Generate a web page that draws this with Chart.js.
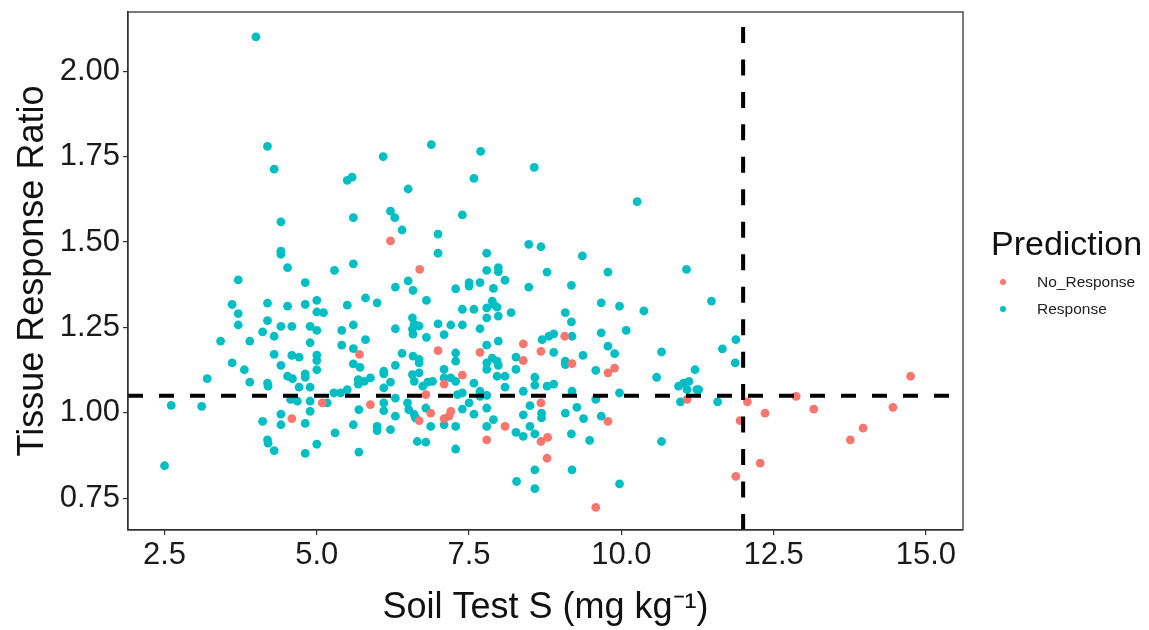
<!DOCTYPE html>
<html>
<head>
<meta charset="utf-8">
<script src="https://cdn.jsdelivr.net/npm/chart.js@4.4.1/dist/chart.umd.min.js"></script>
<style>
  body { margin: 0; background: #fff; }
  #wrap { position: relative; width: 1149px; height: 630px; font-family: "Liberation Sans", Arial, sans-serif; }
  #legend { position: absolute; left: 0; top: 0; }
  .lg-title { position: absolute; left: 991px; top: 223px; font-size: 34px; line-height: 40px; color: #111; white-space: nowrap; }
  .lg-item { position: absolute; left: 1037px; font-size: 15.5px; line-height: 18px; color: #222; white-space: nowrap; }
  .lg-dot { position: absolute; width: 6px; height: 6px; border-radius: 50%; }
</style>
</head>
<body>
<div id="wrap">
  <canvas id="chart" width="1149" height="630"></canvas>
  <div id="legend"></div>
</div>
<script>
// Soil test S (x) vs tissue response ratio (y)
const responseX = [
  4.00, 4.19, 4.30, 5.50, 5.58, 6.09, 6.50, 6.88, 7.58, 7.69, 8.57, 10.26,
  6.21, 4.41, 5.60, 6.28, 6.40, 4.41, 4.41, 4.52, 5.29, 5.60, 3.71, 4.81,
  6.50, 6.29, 6.58, 5.80, 5.99, 5.00, 3.61, 4.19, 4.52, 4.81, 5.50, 5.00,
  5.11, 3.71, 3.71, 4.19, 4.41, 4.59, 4.11, 4.30, 4.89, 5.00, 5.41, 5.60,
  6.29, 6.57, 6.60, 6.57, 6.68, 6.58, 3.42, 3.90, 4.89, 5.41, 5.60, 5.80,
  4.30, 4.59, 4.71, 5.00, 5.00, 6.40, 6.58, 3.61, 4.41, 5.60, 5.71, 6.29,
  3.81, 5.00, 6.10,
  3.90, 3.20, 4.19, 4.20, 4.52, 4.60, 4.71, 4.81, 4.81, 4.89, 5.68, 5.68,
  5.78, 5.88, 6.10, 6.10, 6.21, 5.28, 5.39, 5.50, 4.57, 4.68, 4.89, 5.17,
  2.61, 3.11, 6.10, 6.10, 6.29, 6.49, 6.51, 6.60, 5.69, 4.89, 4.41, 4.11,
  4.41, 4.81, 5.60, 5.99, 5.99, 6.21, 6.29, 5.30, 4.19, 4.20, 4.30, 4.81,
  5.00, 5.69, 6.65, 2.50,
  7.39, 6.99, 6.99, 7.79, 8.48, 8.68, 9.36, 11.07, 7.79, 7.98, 7.98, 8.78,
  9.78, 7.50, 7.50, 7.68, 8.09, 7.28, 7.90, 8.48, 9.18, 6.80, 7.88, 7.90,
  7.39, 7.58, 7.79, 7.96, 7.79, 7.98, 8.19, 9.67, 9.97, 10.37, 9.08, 9.18,
  10.08, 9.67, 6.99, 7.20, 7.39, 7.09, 6.80, 7.68, 7.79, 7.98, 8.70, 8.81,
  8.89, 9.19, 9.78, 9.89, 10.66, 7.28, 7.28, 7.88, 7.96, 7.98, 8.27, 8.89,
  9.08, 9.08, 9.37, 6.68,
  6.68, 7.79, 9.58, 10.58, 10.94, 11.02, 11.08, 10.97, 11.24, 6.57, 6.68, 6.60,
  6.74, 6.82, 6.90, 7.09, 7.09, 7.20, 7.28, 7.58, 7.68, 7.79, 7.96, 8.09,
  8.09, 8.27, 8.58, 8.58, 8.78, 8.89, 8.39, 9.19, 9.97, 7.31, 7.39, 7.50,
  7.68, 7.79, 7.79, 7.58, 7.39, 6.79, 6.62, 6.87, 7.09, 7.28, 6.79, 7.28,
  7.79, 7.90, 8.39, 8.50, 8.69, 8.69, 8.50, 8.58, 8.27, 8.39, 9.08, 9.27,
  9.38, 9.18, 9.48, 9.58, 9.67, 10.66, 8.58, 8.28, 8.58, 9.19, 9.97,
  11.87, 11.11, 11.27, 11.58, 11.48, 11.88, 11.66, 11.21
];
const responseY = [
  2.100, 1.780, 1.713, 1.680, 1.690, 1.750, 1.655, 1.785, 1.686, 1.765, 1.718, 1.618,
  1.590, 1.559, 1.571, 1.571, 1.535, 1.473, 1.464, 1.425, 1.417, 1.436, 1.389, 1.381,
  1.386, 1.368, 1.358, 1.336, 1.322, 1.329, 1.317, 1.321, 1.312, 1.317, 1.315, 1.295,
  1.293, 1.290, 1.257, 1.270, 1.253, 1.253, 1.237, 1.224, 1.253, 1.241, 1.241, 1.257,
  1.246, 1.278, 1.259, 1.245, 1.254, 1.230, 1.210, 1.210, 1.205, 1.198, 1.188, 1.214,
  1.171, 1.168, 1.163, 1.169, 1.153, 1.174, 1.166, 1.146, 1.139, 1.143, 1.133, 1.139,
  1.126, 1.126, 1.122,
  1.090, 1.100, 1.087, 1.078, 1.107, 1.100, 1.075, 1.114, 1.104, 1.075, 1.097, 1.084,
  1.092, 1.102, 1.114, 1.073, 1.090, 1.058, 1.058, 1.068, 1.039, 1.034, 1.034, 1.029,
  1.022, 1.019, 1.029, 1.006, 1.043, 1.029, 1.009, 0.995, 1.009, 1.004, 0.996, 0.975,
  0.965, 0.969, 0.965, 0.960, 0.948, 0.951, 0.990, 0.941, 0.921, 0.911, 0.889, 0.881,
  0.908, 0.885, 0.916, 0.845,
  1.579, 1.523, 1.467, 1.467, 1.493, 1.486, 1.459, 1.420, 1.417, 1.425, 1.413, 1.412,
  1.412, 1.381, 1.371, 1.381, 1.388, 1.363, 1.364, 1.368, 1.373, 1.329, 1.327, 1.317,
  1.303, 1.303, 1.307, 1.309, 1.278, 1.283, 1.293, 1.322, 1.312, 1.298, 1.293, 1.266,
  1.241, 1.234, 1.260, 1.257, 1.257, 1.229, 1.221, 1.246, 1.198, 1.210, 1.214, 1.224,
  1.231, 1.224, 1.195, 1.173, 1.178, 1.175, 1.151, 1.160, 1.151, 1.139, 1.163, 1.177,
  1.151, 1.141, 1.168, 1.156,
  1.146, 1.146, 1.124, 1.104, 1.078, 1.087, 1.068, 1.032, 1.068, 1.112, 1.117, 1.092,
  1.078, 1.090, 1.092, 1.127, 1.102, 1.102, 1.092, 1.087, 1.063, 1.127, 1.107, 1.107,
  1.075, 1.127, 1.104, 1.081, 1.078, 1.084, 1.063, 1.063, 1.058, 1.053, 1.058, 1.029,
  1.048, 1.051, 1.014, 0.996, 1.011, 1.014, 0.985, 0.960, 0.965, 0.960, 0.914, 0.894,
  0.960, 0.980, 0.994, 1.021, 0.999, 0.985, 0.960, 0.938, 0.943, 0.931, 0.999, 1.016,
  0.983, 0.938, 0.919, 1.039, 0.990, 0.916, 0.833, 0.799, 0.778, 0.833, 0.792,
  1.146, 1.092, 1.068, 1.032, 1.327, 1.214, 1.187, 1.126
];
const noResponseX = [
  6.21, 6.69, 5.70, 5.09, 5.88, 4.59, 6.99, 7.68, 8.39, 8.68, 9.07, 8.39,
  9.19, 9.78, 9.89, 11.08, 7.39, 7.09, 6.79, 6.87, 6.68, 7.09, 7.17, 7.20,
  7.79, 8.09, 8.68, 8.68, 8.79, 8.78, 9.78, 9.58,
  12.07, 12.36, 11.95, 12.28, 11.88, 12.87, 13.16, 13.76, 13.97, 14.46, 14.75
];
const noResponseY = [
  1.503, 1.420, 1.171, 1.029, 1.024, 0.983, 1.182, 1.177, 1.202, 1.180, 1.224, 1.153,
  1.144, 1.117, 1.131, 1.039, 1.110, 1.084, 1.053, 0.999, 0.977, 0.983, 0.990, 1.004,
  0.921, 0.960, 1.029, 0.916, 0.928, 0.867, 0.975, 0.723,
  1.032, 0.999, 0.977, 0.853, 0.814, 1.048, 1.011, 0.921, 0.955, 1.016, 1.107
];

const xTicks = [2.5, 5.0, 7.5, 10.0, 12.5, 15.0];
const yTicks = [0.75, 1.00, 1.25, 1.50, 1.75, 2.00];
const xRange = [1.9, 15.61];
const yRange = [0.657, 2.173];
const soilThreshold = 12;     // critical soil test value
const ratioThreshold = 1.05;  // critical response ratio

const COLORS = { Response: '#00BFC4', No_Response: '#F8766D' };

const toPoints = (xs, ys) => xs.map((x, i) => ({ x, y: ys[i] }));

const tickFont = { family: '"Liberation Sans", Arial, sans-serif', size: 31 };
const titleFont = { family: '"Liberation Sans", Arial, sans-serif', size: 36 };

// box round the panel
const framePlugin = {
  id: 'frame',
  afterDatasetsDraw(chart) {
    const { ctx, chartArea: a } = chart;
    ctx.save();
    ctx.strokeStyle = '#333';
    ctx.lineWidth = 1.3;
    ctx.strokeRect(a.left, a.top, a.right - a.left, a.bottom - a.top);
    ctx.restore();
  },
};

const dashed = (pts, dash) => ({
  type: 'line',
  data: pts,
  borderColor: '#000',
  borderWidth: 4,
  borderDash: dash,
  borderCapStyle: 'butt',
  pointRadius: 0,
  fill: false,
  tension: 0,
  order: 0,
});

new Chart(document.getElementById('chart'), {
  type: 'scatter',
  data: {
    datasets: [
      {
        label: 'Response',
        data: toPoints(responseX, responseY),
        backgroundColor: COLORS.Response,
        pointRadius: 4.4,
        borderWidth: 0,
        order: 2,
      },
      {
        label: 'No_Response',
        data: toPoints(noResponseX, noResponseY),
        backgroundColor: COLORS.No_Response,
        pointRadius: 4.4,
        borderWidth: 0,
        order: 1,
      },
      dashed([{ x: xRange[0], y: ratioThreshold }, { x: xRange[1], y: ratioThreshold }], [15, 16]),
      dashed([{ x: soilThreshold, y: yRange[0] }, { x: soilThreshold, y: yRange[1] }], [16, 16.47]),
    ],
  },
  options: {
    responsive: false,
    animation: false,
    layout: { padding: { left: 0, right: 186, top: 12, bottom: 0 } },
    plugins: { legend: { display: false }, tooltip: { enabled: false } },
    scales: {
      x: {
        type: 'linear',
        min: xRange[0],
        max: xRange[1],
        afterBuildTicks: (s) => { s.ticks = xTicks.map((v) => ({ value: v })); },
        afterFit: (s) => { s.height = 100; s.paddingLeft = 0; s.paddingRight = 0; },
        ticks: { callback: (v) => v.toFixed(1), font: tickFont, color: '#1a1a1a', padding: 2, maxRotation: 0 },
        grid: { drawOnChartArea: false, tickLength: 5, color: '#333', lineWidth: 1.2 },
        border: { color: '#333', width: 1.3 },
        title: { display: true, text: 'Soil Test S (mg kg\u207B\u00B9)', font: titleFont, color: '#111', padding: { top: 0, bottom: 0 } },
      },
      y: {
        type: 'linear',
        min: yRange[0],
        max: yRange[1],
        afterBuildTicks: (s) => { s.ticks = yTicks.map((v) => ({ value: v })); },
        afterFit: (s) => { s.width = 128; s.paddingTop = 0; s.paddingBottom = 0; },
        ticks: { callback: (v) => v.toFixed(2), font: tickFont, color: '#1a1a1a', padding: 3 },
        grid: { drawOnChartArea: false, tickLength: 5, color: '#333', lineWidth: 1.2 },
        border: { color: '#333', width: 1.3 },
        title: { display: true, text: 'Tissue Response Ratio', font: titleFont, color: '#111', padding: { top: 11, bottom: 0 } },
      },
    },
  },
  plugins: [framePlugin],
});

// legend (ggplot style, on the right)
const legend = document.getElementById('legend');
const title = document.createElement('div');
title.className = 'lg-title';
title.textContent = 'Prediction';
legend.appendChild(title);
['No_Response', 'Response'].forEach((name, i) => {
  const cy = 282 + i * 26.6;
  const dot = document.createElement('div');
  dot.className = 'lg-dot';
  dot.style.background = COLORS[name];
  dot.style.left = (1003 - 3) + 'px';
  dot.style.top = (cy - 3) + 'px';
  legend.appendChild(dot);
  const item = document.createElement('div');
  item.className = 'lg-item';
  item.style.top = (cy - 9) + 'px';
  item.textContent = name;
  legend.appendChild(item);
});
</script>
</body>
</html>
